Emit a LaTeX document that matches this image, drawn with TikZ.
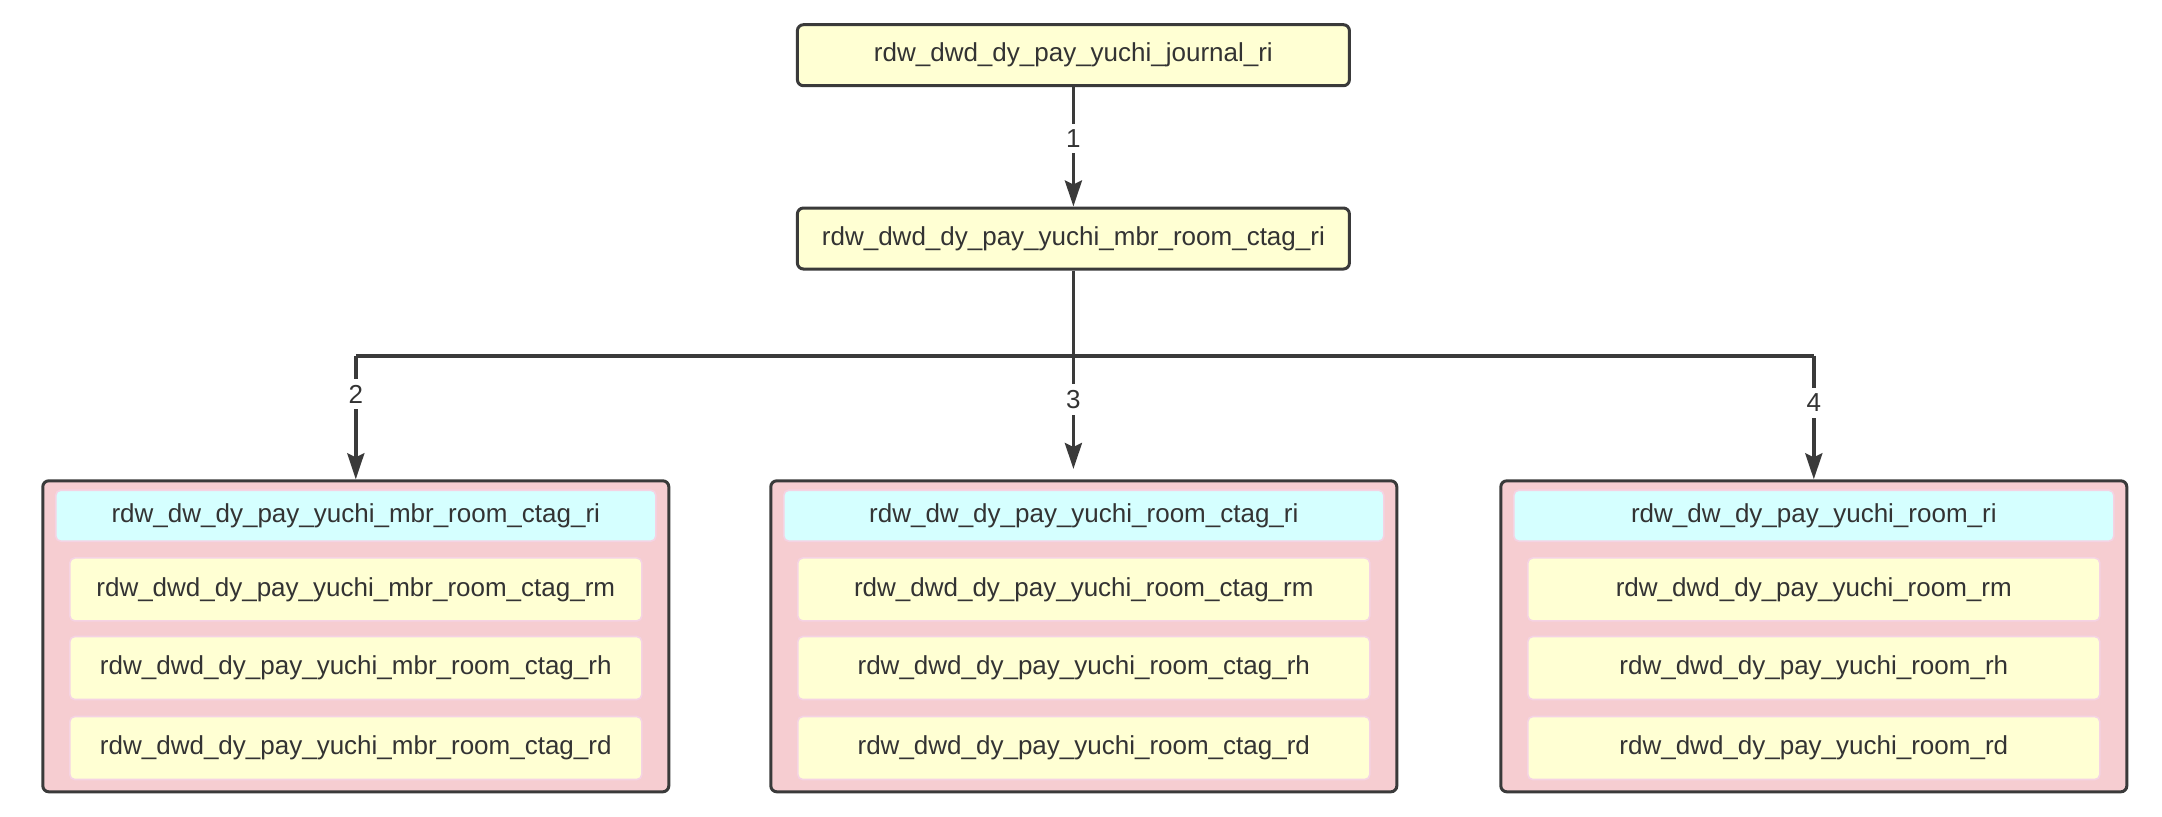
\documentclass[tikz,border=0pt]{standalone}
\usepackage{fontspec}
\setmainfont{Liberation Sans}
\usetikzlibrary{arrows.meta}
\definecolor{lineC}{HTML}{3A3A3A}
\definecolor{txtC}{HTML}{333333}
\definecolor{yellowF}{HTML}{FFFFD3}
\definecolor{cyanF}{HTML}{D5FFFF}
\definecolor{pinkF}{HTML}{F6CDD1}
\definecolor{pinkB}{HTML}{F5D3E3}
\tikzset{
  txt/.style={font=\fontsize{13}{15}\selectfont, text=txtC},
  topbox/.style={txt, draw=lineC, line width=1.5pt, fill=yellowF, rounded corners=3pt,
    minimum width=276pt, minimum height=30.5pt, inner sep=0pt},
  cont/.style={draw=lineC, line width=1.5pt, fill=pinkF, rounded corners=3pt,
    minimum width=313pt, minimum height=155.5pt, inner sep=0pt},
  headbox/.style={txt, draw=pinkB, line width=0.8pt, fill=cyanF, rounded corners=2.5pt,
    minimum width=300pt, minimum height=25.5pt, inner sep=0pt},
  rowbox/.style={txt, draw=pinkB, line width=0.8pt, fill=yellowF, rounded corners=2.5pt,
    minimum width=286pt, minimum height=31.5pt, inner sep=0pt},
  conn/.style={draw=lineC, line width=1.8pt},
  arr/.style={conn, -{Stealth[length=13pt,width=8.5pt,inset=2pt]}},
  lbl/.style={txt, fill=white, inner xsep=1.5pt, inner ysep=3pt}
}
\begin{document}
\begin{tikzpicture}[x=0.5pt,y=-0.5pt]
\useasboundingbox (0,0) rectangle (2162,816);
% top chain
\node[topbox] (n1) at (1073.4,55.2) {rdw\_dwd\_dy\_pay\_yuchi\_journal\_ri};
\node[topbox] (n2) at (1073.4,238.5) {rdw\_dwd\_dy\_pay\_yuchi\_mbr\_room\_ctag\_ri};
% containers
\node[cont] (ca) at (355.8,636.3) {};
\node[cont] (cb) at (1083.8,636.3) {};
\node[cont] (cc) at (1813.8,636.3) {};
% container A
\node[headbox] (ah) at (355.8,515.7) {rdw\_dw\_dy\_pay\_yuchi\_mbr\_room\_ctag\_ri};
\node[rowbox] (a1) at (355.8,589.4) {rdw\_dwd\_dy\_pay\_yuchi\_mbr\_room\_ctag\_rm};
\node[rowbox] (a2) at (355.8,668.0) {rdw\_dwd\_dy\_pay\_yuchi\_mbr\_room\_ctag\_rh};
\node[rowbox] (a3) at (355.8,748.0) {rdw\_dwd\_dy\_pay\_yuchi\_mbr\_room\_ctag\_rd};
% container B
\node[headbox] (bh) at (1083.8,515.7) {rdw\_dw\_dy\_pay\_yuchi\_room\_ctag\_ri};
\node[rowbox] (b1) at (1083.8,589.4) {rdw\_dwd\_dy\_pay\_yuchi\_room\_ctag\_rm};
\node[rowbox] (b2) at (1083.8,668.0) {rdw\_dwd\_dy\_pay\_yuchi\_room\_ctag\_rh};
\node[rowbox] (b3) at (1083.8,748.0) {rdw\_dwd\_dy\_pay\_yuchi\_room\_ctag\_rd};
% container C
\node[headbox] (ch) at (1813.8,515.7) {rdw\_dw\_dy\_pay\_yuchi\_room\_ri};
\node[rowbox] (c1) at (1813.8,589.4) {rdw\_dwd\_dy\_pay\_yuchi\_room\_rm};
\node[rowbox] (c2) at (1813.8,668.0) {rdw\_dwd\_dy\_pay\_yuchi\_room\_rh};
\node[rowbox] (c3) at (1813.8,748.0) {rdw\_dwd\_dy\_pay\_yuchi\_room\_rd};
% connectors
\coordinate (bus) at (0,355.7);
\coordinate (t3) at (1073.4,469);
\draw[arr] (n1) -- node[lbl,pos=0.43] {1} (n2);
\draw[conn] (ca.north |- bus) -- (cc.north |- bus);
\draw[arr] (n2.south) -- node[lbl,pos=0.65] {3} (t3);
\draw[arr] (ca.north |- bus) -- node[lbl,pos=0.31] {2} (ca.north);
\draw[arr] (cc.north |- bus) -- node[lbl,pos=0.38] {4} (cc.north);
\end{tikzpicture}
\end{document}
